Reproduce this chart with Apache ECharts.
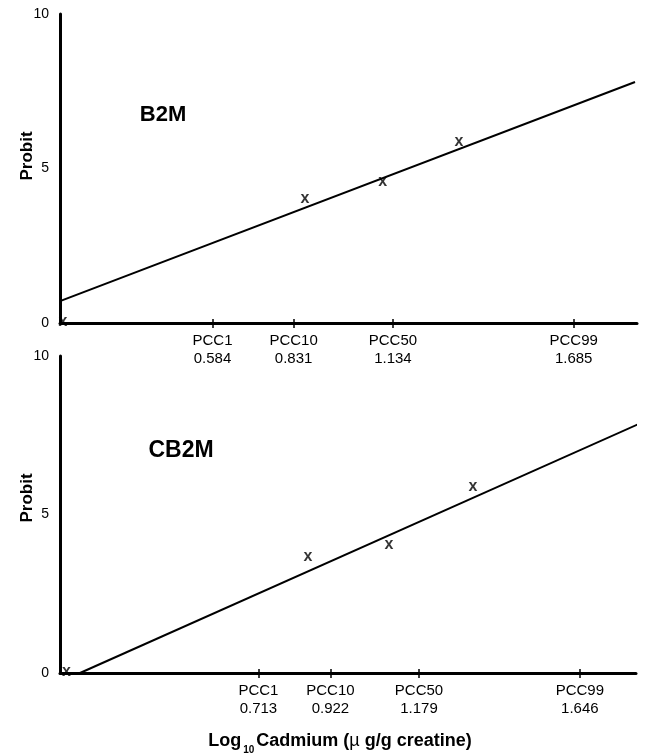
<!DOCTYPE html>
<html>
<head>
<meta charset="UTF-8">
<title>Probit vs Log10 Cadmium</title>
<script src="https://cdn.jsdelivr.net/npm/echarts@6/dist/echarts.min.js"></script>
<style>
  html, body { margin: 0; padding: 0; background: #fff; }
  #chart { width: 657px; height: 755px; }
</style>
</head>
<body>
<div id="chart"></div>
<script>
// probit axis ticks
const yTicks = [0, 5, 10];

// B2M panel
const b2mPccNames = ['PCC1', 'PCC10', 'PCC50', 'PCC99'];
const b2mPccValues = [0.584, 0.831, 1.134, 1.685];
const b2mPoints = [[0.128, 0], [0.866, 3.98], [1.103, 4.56], [1.335, 5.83]];
const b2mLine = [[0.119, 0.71], [1.872, 7.80]];

// CB2M panel
const cb2mPccNames = ['PCC1', 'PCC10', 'PCC50', 'PCC99'];
const cb2mPccValues = [0.713, 0.922, 1.179, 1.646];
const cb2mPoints = [[0.156, 0], [0.857, 3.63], [1.092, 4.01], [1.336, 5.84]];
const cb2mLine = [[0.195, 0], [1.855, 8.04]];

const FONT = '"Liberation Sans", Arial, Helvetica, sans-serif';

function pccLabel(names, values) {
    return v => {
        const i = values.findIndex(x => Math.abs(x - v) < 1e-6);
        return i < 0 ? '' : names[i] + '\n' + values[i].toFixed(3);
    };
}

function xAxes(gridIndex, min, max, names, values) {
    return [
        {
            type: 'value', gridIndex, min, max, position: 'bottom',
            splitLine: { show: false },
            axisLine: { show: true, lineStyle: { color: '#000', width: 3 } },
            axisTick: { show: true, customValues: values, length: 5, lineStyle: { color: '#000', width: 1.5 } },
            axisLabel: {
                show: true, customValues: values, margin: 9,
                formatter: pccLabel(names, values),
                color: '#000', fontFamily: FONT, fontSize: 15, lineHeight: 18
            }
        },
        {
            type: 'value', gridIndex, min, max, position: 'bottom',
            splitLine: { show: false },
            axisLine: { show: false },
            axisTick: { show: true, inside: true, customValues: values, length: 4, lineStyle: { color: '#000', width: 1.5 } },
            axisLabel: { show: false }
        }
    ];
}

function yAxis(gridIndex) {
    return {
        type: 'value', gridIndex, min: 0, max: 10, interval: 5,
        splitLine: { show: false },
        axisLine: { show: true, lineStyle: { color: '#000', width: 3 } },
        axisTick: { show: false },
        axisLabel: { margin: 11, color: '#000', fontFamily: FONT, fontSize: 14 }
    };
}

function markSeries(xAxisIndex, yAxisIndex, data) {
    return {
        type: 'scatter', xAxisIndex, yAxisIndex, data,
        symbolSize: 1,
        itemStyle: { color: 'rgba(0,0,0,0)' },
        label: {
            show: true, position: 'inside', formatter: 'x', offset: [0, -1],
            color: '#000', fontFamily: FONT, fontWeight: 'bold', fontSize: 16
        },
        silent: true, z: 5
    };
}

function lineSeries(xAxisIndex, yAxisIndex, data) {
    return {
        type: 'line', xAxisIndex, yAxisIndex, data,
        showSymbol: false, clip: false,
        lineStyle: { color: '#000', width: 2 },
        silent: true
    };
}

const chart = echarts.init(document.getElementById('chart'));

chart.setOption({
    animation: false,
    backgroundColor: '#fff',
    grid: [
        { left: 60, right: 20, top: 14, height: 309 },
        { left: 60, right: 21, top: 356, height: 317 }
    ],
    xAxis: [
        ...xAxes(0, 0.119, 1.878, b2mPccNames, b2mPccValues),
        ...xAxes(1, 0.137, 1.809, cb2mPccNames, cb2mPccValues)
    ],
    yAxis: [yAxis(0), yAxis(1)],
    series: [
        lineSeries(0, 0, b2mLine),
        markSeries(0, 0, b2mPoints),
        lineSeries(2, 1, cb2mLine),
        markSeries(2, 1, cb2mPoints)
    ],
    graphic: [
        { type: 'text', x: 163, y: 115, style: { text: 'B2M', font: 'bold 22px ' + FONT, fill: '#000', align: 'center', verticalAlign: 'middle' } },
        { type: 'text', x: 181, y: 451, style: { text: 'CB2M', font: 'bold 23px ' + FONT, fill: '#000', align: 'center', verticalAlign: 'middle' } },
        { type: 'text', x: 27, y: 156, rotation: Math.PI / 2, style: { text: 'Probit', font: 'bold 17px ' + FONT, fill: '#000', align: 'center', verticalAlign: 'middle' } },
        { type: 'text', x: 27, y: 498, rotation: Math.PI / 2, style: { text: 'Probit', font: 'bold 17px ' + FONT, fill: '#000', align: 'center', verticalAlign: 'middle' } },
        {
            type: 'text', x: 340, y: 741,
            style: {
                text: '{b|Log}{s|10}{b|Cadmium (}{m|µ}{b| g/g creatine)}',
                align: 'center', verticalAlign: 'middle', fill: '#000',
                rich: {
                    b: { fontFamily: FONT, fontWeight: 'bold', fontSize: 18, fill: '#000' },
                    s: { fontFamily: FONT, fontWeight: 'bold', fontSize: 10, fill: '#000', padding: [18, 2, 0, 2] },
                    m: { fontFamily: FONT, fontSize: 18, fill: '#000' }
                }
            }
        }
    ]
});
</script>
</body>
</html>
